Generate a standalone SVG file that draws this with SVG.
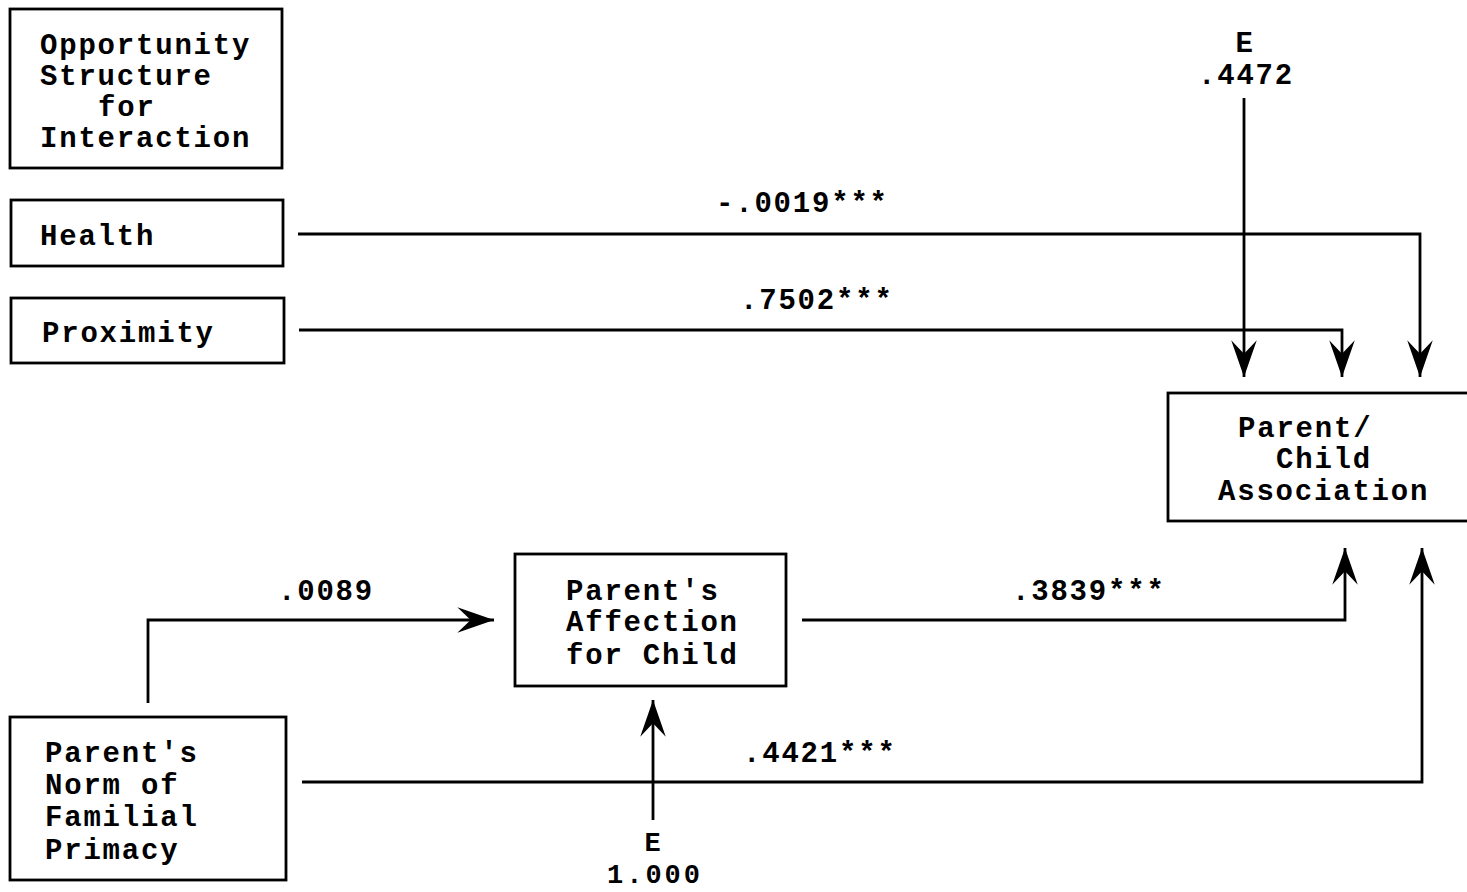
<svg xmlns="http://www.w3.org/2000/svg" width="1467" height="892" viewBox="0 0 1467 892">
<style>
.box{fill:none;stroke:#000;stroke-width:2.8}
.t{font-family:"Liberation Mono","Courier New",monospace;font-weight:bold;font-size:29px;letter-spacing:1.8px;fill:#000}
.s{font-size:27px;letter-spacing:3px}
.c{fill:none;stroke:#000;stroke-width:2.8}
</style>
<defs>
<marker id="ah" markerUnits="userSpaceOnUse" markerWidth="40" markerHeight="30" viewBox="-34 -13 36 26" refX="0" refY="0" orient="auto">
<path d="M0,0 L-33,-11.5 L-21,0 L-33,11.5 Z" fill="#000"/>
</marker>
</defs>
<rect width="1467" height="892" fill="#fff"/>
<g id="opportunity">
<rect class="box" x="10" y="9" width="272" height="159"/>
<text class="t" x="40" y="54">Opportunity</text>
<text class="t" x="40" y="85">Structure</text>
<text class="t" x="98" y="116">for</text>
<text class="t" x="40" y="147">Interaction</text>
</g>
<g id="health">
<rect class="box" x="11" y="200" width="272" height="66"/>
<text class="t" x="40" y="245">Health</text>
</g>
<g id="proximity">
<rect class="box" x="11" y="298" width="273" height="65"/>
<text class="t" x="42" y="342">Proximity</text>
</g>
<g id="association">
<rect class="box" x="1168" y="393" width="302" height="128"/>
<text class="t" x="1238" y="437">Parent/</text>
<text class="t" x="1276" y="468">Child</text>
<text class="t" x="1218" y="500">Association</text>
</g>
<g id="affection">
<rect class="box" x="515" y="554" width="271" height="132"/>
<text class="t" x="566" y="600">Parent's</text>
<text class="t" x="566" y="631">Affection</text>
<text class="t" x="566" y="664">for Child</text>
</g>
<g id="norm">
<rect class="box" x="10" y="717" width="276" height="163"/>
<text class="t" x="45" y="762">Parent's</text>
<text class="t" x="45" y="794">Norm of</text>
<text class="t" x="45" y="826">Familial</text>
<text class="t" x="45" y="859">Primacy</text>
</g>
<g id="connectors">
<polyline class="c" points="298,234 1420,234 1420,377" marker-end="url(#ah)"/>
<polyline class="c" points="299,330 1342,330 1342,377" marker-end="url(#ah)"/>
<polyline class="c" points="1244,98 1244,377" marker-end="url(#ah)"/>
<polyline class="c" points="802,620 1345,620 1345,548" marker-end="url(#ah)"/>
<polyline class="c" points="302,782 1422,782 1422,548" marker-end="url(#ah)"/>
<polyline class="c" points="148,703 148,620 494,620" marker-end="url(#ah)"/>
<polyline class="c" points="653,820 653,700" marker-end="url(#ah)"/>
</g>
<g id="labels">
<text class="t" x="1245" y="52" text-anchor="middle">E</text>
<text class="t" x="1246" y="84" text-anchor="middle">.4472</text>
<text class="t" x="716" y="212">-.0019***</text>
<text class="t" x="740" y="309">.7502***</text>
<text class="t" x="278" y="600">.0089</text>
<text class="t" x="1012" y="600">.3839***</text>
<text class="t" x="743" y="762">.4421***</text>
<text class="t s" x="654" y="851" text-anchor="middle">E</text>
<text class="t s" x="655" y="883" text-anchor="middle">1.000</text>
</g>
</svg>
